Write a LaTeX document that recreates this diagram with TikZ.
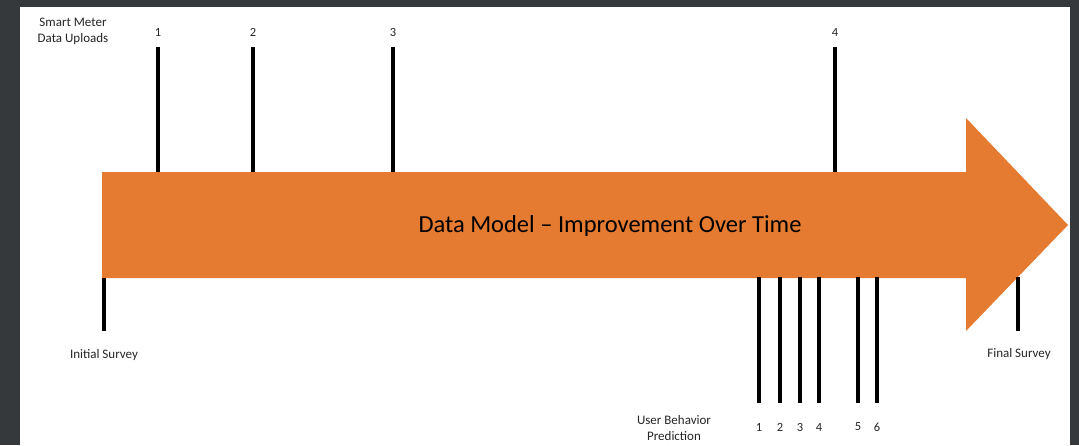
\documentclass[tikz,border=0pt]{standalone}
\usepackage{fontspec}
\setmainfont{Carlito}
\begin{document}
\begin{tikzpicture}[x=1pt,y=-1pt,
  tick/.style={line width=3.2pt,black},
  small/.style={font=\fontsize{13}{15}\selectfont,text=black!85,align=center,inner sep=0pt},
  num/.style={font=\fontsize{12.5}{14}\selectfont,text=black!85,inner sep=0pt}]
\definecolor{bgdark}{HTML}{36393C}
\definecolor{arroworange}{HTML}{E57B31}
\fill[bgdark] (0,0) rectangle (1079,445);
\fill[white] (20,7) rectangle (1070,445);
\useasboundingbox (0,0) rectangle (1079,445);
% arrow
\fill[arroworange] (102,172) -- (966,172) -- (966,118) -- (1068,225) -- (966,331) -- (966,278) -- (102,278) -- cycle;
\node[font=\fontsize{24.5}{28}\selectfont,inner sep=0pt] (title) at (610,226) {Data Model -- Improvement Over Time};
% upper ticks
\foreach \x/\n in {158/1,253/2,393/3,835/4}{
  \coordinate (ut\n) at (\x,47);
  \coordinate (ub\n) at (\x,172);
  \draw[tick] (ut\n) -- (ub\n);
  \node[num] (un\n) at (\x,32) {\n};
}
\node[small] (smart) at (73,31) {Smart Meter\\[1pt]Data Uploads};
% surveys
\coordinate (is1) at (104,278); \coordinate (is2) at (104,331);
\draw[tick] (is1) -- (is2);
\node[small] (initial) at (104,355) {Initial Survey};
\coordinate (fs1) at (1018,277); \coordinate (fs2) at (1018,331);
\draw[tick] (fs1) -- (fs2);
\node[small] (final) at (1019,354) {Final Survey};
% lower ticks
\foreach \x/\n in {759/1,780/2,800/3,819/4,858/5,877/6}{
  \coordinate (lt\n) at (\x,277);
  \coordinate (lb\n) at (\x,403);
  \draw[tick] (lt\n) -- (lb\n);
  \node[num] (ln\n) at (\x,427) {\n};
}
\node[small] (ubp) at (674,428) {User Behavior\\[1pt]Prediction};
\end{tikzpicture}
\end{document}
